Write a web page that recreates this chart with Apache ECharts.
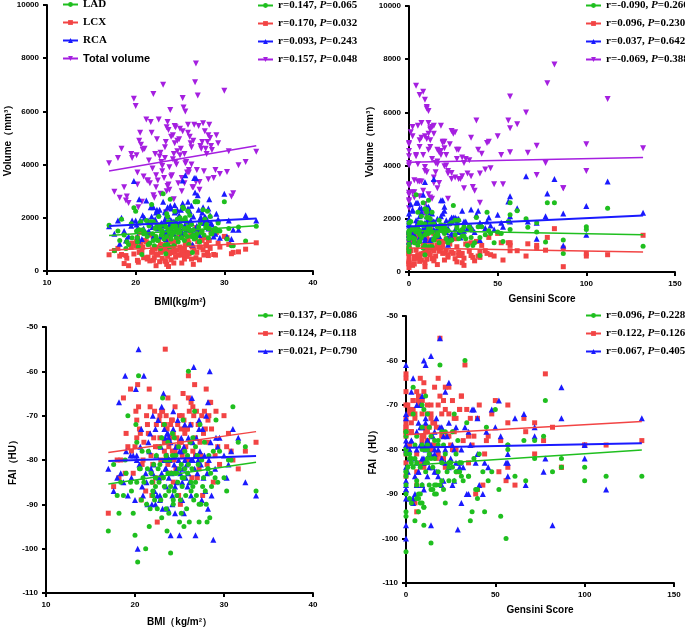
<!DOCTYPE html>
<html>
<head>
<meta charset="utf-8" />
<script src="https://cdn.jsdelivr.net/npm/echarts@6/dist/echarts.min.js"></script>
<style>
  html, body, #main { width: 100%; height: 100%; margin: 0; background: #fff; }
</style>
</head>
<body>
<div id="main"></div>
<script>
// one entry per patient, same order in every array
var bmi = [
  17.0, 17.6, 18.2, 18.4, 18.7, 18.9, 19.2, 19.5, 19.6, 19.8,
  20.0, 20.1, 20.2, 20.3, 20.4, 20.5, 20.7, 20.9, 21.0, 21.2,
  21.3, 21.5, 21.6, 21.8, 21.9, 22.0, 22.1, 22.2, 22.3, 22.4,
  22.5, 22.6, 22.7, 22.8, 22.9, 23.0, 23.1, 23.2, 23.3, 23.3,
  23.4, 23.5, 23.5, 23.6, 23.7, 23.7, 23.8, 23.9, 24.0, 24.0,
  24.1, 24.2, 24.3, 24.4, 24.4, 24.5, 24.6, 24.7, 24.8, 24.9,
  25.0, 25.0, 25.1, 25.2, 25.3, 25.4, 25.5, 25.5, 25.6, 25.7,
  25.8, 25.9, 26.0, 26.1, 26.2, 26.3, 26.4, 26.5, 26.6, 26.7,
  26.8, 26.9, 27.0, 27.1, 27.2, 27.3, 27.5, 27.6, 27.7, 27.8,
  28.0, 28.1, 28.2, 28.3, 28.4, 28.6, 28.8, 29.0, 29.1, 29.3,
  29.5, 30.0, 30.3, 30.5, 31.0, 31.6, 32.4, 33.6, 21.4, 23.0,
  24.5, 25.6, 26.3, 22.0, 20.6, 27.4, 24.2, 23.6, 25.2, 26.0,
  19.0, 20.8, 21.7, 22.3, 23.4, 24.3, 25.3, 26.8, 27.9, 28.5,
  18.0, 20.2, 22.8, 23.8, 24.7, 25.9, 26.5, 27.2, 28.2, 30.8
];
var gensini = [
  5, 0, 22, 28, 16, 0, 9, 18, 32, 9,
  10, 4, 22, 0, 19, 14, 40, 26, 11, 56,
  7, 16, 0, 25, 43, 6, 13, 21, 87, 12,
  6, 38, 30, 0, 15, 10, 4, 24, 27, 132,
  19, 2, 57, 36, 0, 24, 46, 11, 14, 35,
  30, 9, 0, 100, 13, 31, 21, 17, 48, 6,
  0, 12, 39, 28, 112, 10, 53, 4, 16, 0,
  40, 11, 33, 7, 0, 20, 87, 45, 14, 78,
  82, 9, 57, 2, 37, 12, 0, 61, 15, 26,
  8, 44, 3, 18, 10, 0, 29, 100, 50, 23,
  72, 8, 24, 57, 11, 20, 77, 67, 5, 9,
  12, 66, 0, 6, 72, 16, 34, 11, 3, 22,
  3, 18, 7, 35, 9, 52, 1, 14, 27, 6,
  13, 0, 41, 8, 20, 5, 31, 17, 2, 12
];
var ladVol = [
  1720, 760, 1150, 1950, 1350, 850, 1000, 1780, 1250, 2380,
  2250, 1500, 1100, 900, 1550, 1800, 620, 1400, 1450, 1900,
  1300, 1700, 1050, 2500, 1400, 1850, 950, 1600, 1200, 1750,
  1150, 2050, 1600, 850, 1350, 1500, 2900, 1200, 1750, 970,
  1650, 1300, 2150, 1000, 1550, 1850, 1450, 2700, 1200, 1600,
  1350, 1800, 950, 1700, 2250, 1700, 1250, 1950, 1100, 1550,
  1450, 2000, 1700, 1250, 2400, 2350, 1150, 1600, 1400, 1850,
  1300, 1650, 1000, 2100, 1500, 1750, 700, 1550, 1200, 2600,
  2600, 1400, 2600, 1650, 1100, 1800, 1500, 2300, 1350, 1950,
  1750, 2250, 1250, 1600, 2050, 1400, 1550, 1600, 1500, 1800,
  1500, 2600, 1200, 1600, 950, 1650, 1130, 1680, 1000, 1400,
  1600, 2000, 1300, 1150, 1850, 1450, 1700, 2050, 1250, 1550,
  1100, 1550, 1850, 1300, 650, 1450, 1900, 1250, 1650, 1400,
  1500, 1250, 1700, 900, 1450, 2250, 1350, 1100, 1600, 950
];
var lcxVol = [
  610, 770, 560, 620, 280, 580, 200, 900, 1050, 640,
  950, 1100, 1250, 330, 700, 1450, 750, 500, 1150, 1100,
  450, 1000, 380, 700, 800, 1300, 500, 820, 200, 900,
  600, 1150, 350, 700, 900, 480, 1350, 750, 380, 1380,
  1000, 250, 800, 550, 170, 1350, 650, 900, 420, 1100,
  700, 1450, 300, 700, 1000, 520, 1250, 780, 600, 1300,
  900, 1500, 600, 750, 650, 1350, 450, 820, 1000, 700,
  550, 1200, 1050, 680, 1400, 450, 900, 1300, 800, 1300,
  1630, 700, 1100, 1500, 420, 900, 1150, 800, 600, 1250,
  1000, 700, 580, 1150, 850, 1400, 620, 600, 1450, 1050,
  900, 1300, 1250, 1000, 700, 720, 820, 1060, 520, 850,
  1650, 600, 950, 400, 1000, 1200, 780, 1200, 300, 650,
  480, 900, 1350, 620, 350, 1100, 800, 500, 950, 1500,
  850, 400, 1000, 700, 1150, 650, 250, 900, 1150, 650
];
var rcaVol = [
  1680, 1400, 1020, 2000, 1500, 1150, 1300, 1700, 1900, 3380,
  1900, 1750, 1300, 1150, 2700, 1900, 1200, 1600, 2000, 2650,
  1450, 1500, 1800, 2050, 1650, 2400, 1250, 1950, 2200, 2300,
  1600, 2150, 2300, 1300, 1800, 1750, 2600, 1450, 1950, 2230,
  2200, 1400, 2100, 1600, 1500, 2050, 1750, 2450, 1900, 2350,
  1550, 1850, 1400, 2480, 2200, 1900, 1500, 1750, 1600, 2100,
  2000, 1800, 2300, 1500, 3400, 2450, 1700, 1950, 1650, 1550,
  1850, 2350, 1650, 2250, 1900, 2450, 1000, 2050, 3500, 2950,
  3500, 1700, 2850, 2300, 1500, 2000, 2200, 2400, 1800, 2050,
  1650, 1900, 1600, 2700, 2100, 1750, 1300, 1400, 2150, 1950,
  1250, 2900, 1300, 1900, 1550, 1550, 2100, 1900, 1900, 1700,
  2250, 3600, 1800, 1300, 1850, 2000, 1700, 2400, 1400, 1650,
  1200, 2100, 2400, 1700, 1200, 1850, 2550, 1600, 2000, 1800,
  1900, 1600, 1750, 1450, 2300, 2600, 1550, 1350, 2350, 1200
];
var totalVol = [
  4050, 2980, 2750, 4600, 3150, 2650, 2560, 4400, 4250, 6480,
  6200, 4350, 3700, 2400, 4900, 5200, 2600, 3550, 4600, 5700,
  3400, 4150, 3300, 5200, 3850, 6650, 2750, 4400, 3150, 4950,
  3400, 5700, 4300, 2900, 4100, 3750, 7000, 3500, 4250, 4650,
  4850, 3000, 5400, 3200, 3250, 5300, 3900, 6050, 3550, 5050,
  3600, 5100, 2700, 4800, 5450, 4100, 4000, 4500, 3300, 4950,
  4350, 5350, 4600, 3500, 6500, 6150, 3300, 4400, 4050, 4100,
  3700, 5200, 3700, 5050, 4800, 4650, 3150, 4900, 5500, 7100,
  7800, 3800, 6600, 5450, 3050, 4700, 4850, 5550, 3750, 5250,
  4400, 4850, 3450, 5500, 5000, 4550, 3500, 3800, 5100, 4800,
  3650, 6780, 3720, 4500, 2920, 3980, 4100, 4480, 3400, 3950,
  5400, 6000, 4000, 2850, 4750, 4600, 4200, 5600, 3000, 3800,
  2800, 4550, 5600, 3600, 2200, 4400, 5250, 3350, 4600, 4700,
  4250, 3250, 4450, 3050, 4900, 5500, 3150, 3350, 5100, 2800
];
var ladFai = [
  -96, -81, -92, -85, -88, -80, -70, -85, -87, -92,
  -97, -72, -76, -103, -61, -82, -89, -84, -85, -100,
  -90, -78, -95, -83, -85, -87, -81, -89, -84, -79,
  -91, -82, -85, -77, -89, -93, -66, -84, -72, -86,
  -88, -91, -79, -96, -76, -83, -87, -80, -101, -86,
  -83, -79, -90, -87, -75, -83, -79, -88, -85, -77,
  -94, -82, -89, -81, -86, -71, -95, -84, -82, -88,
  -91, -83, -60, -94, -76, -87, -82, -75, -89, -69,
  -85, -88, -79, -81, -94, -72, -80, -86, -84, -76,
  -90, -94, -82, -79, -93, -86, -78, -84, -71, -85,
  -78, -84, -87, -80, -68, -76, -77, -87, -82, -75,
  -83, -78, -85, -88, -82, -90, -74, -80, -92, -81,
  -83, -78, -91, -86, -80, -89, -84, -77, -87, -83,
  -88, -85, -81, -92, -83, -79, -86, -90, -82, -80
];
var lcxFai = [
  -92, -86, -84, -80, -66, -83, -77, -64, -78, -83,
  -77, -69, -71, -63, -68, -73, -89, -80, -76, -87,
  -70, -74, -64, -79, -88, -81, -75, -69, -84, -72,
  -94, -77, -71, -75, -80, -84, -69, -72, -76, -78,
  -55, -79, -70, -73, -81, -66, -77, -75, -72, -83,
  -71, -78, -74, -79, -80, -68, -82, -75, -72, -88,
  -76, -70, -90, -73, -79, -65, -78, -71, -74, -77,
  -73, -80, -61, -69, -76, -72, -84, -78, -70, -63,
  -75, -69, -84, -72, -79, -76, -70, -88, -74, -69,
  -64, -81, -76, -70, -67, -73, -85, -79, -69, -77,
  -81, -70, -77, -74, -80, -82, -78, -76, -72, -69,
  -78, -73, -67, -85, -74, -79, -71, -80, -76, -66,
  -74, -81, -68, -77, -72, -85, -70, -79, -73, -67,
  -80, -75, -70, -83, -77, -73, -68, -82, -71, -78
];
var rcaFai = [
  -82, -87, -67, -83, -85, -61, -88, -79, -84, -79,
  -89, -64, -80, -100, -55, -81, -73, -88, -61, -83,
  -85, -76, -78, -82, -90, -70, -81, -87, -73, -79,
  -88, -71, -84, -89, -77, -83, -91, -65, -80, -73,
  -75, -82, -86, -79, -91, -74, -84, -80, -97, -76,
  -83, -88, -73, -79, -81, -92, -77, -85, -71, -80,
  -97, -78, -83, -75, -89, -82, -77, -92, -80, -84,
  -81, -79, -75, -85, -72, -88, -66, -76, -59, -82,
  -97, -75, -83, -80, -71, -78, -89, -73, -84, -79,
  -70, -83, -67, -80, -60, -88, -98, -82, -75, -77,
  -75, -79, -84, -81, -73, -75, -85, -88, -90, -68,
  -86, -72, -80, -83, -77, -81, -90, -74, -78, -83,
  -78, -86, -74, -90, -82, -69, -85, -79, -87, -76,
  -84, -79, -88, -75, -82, -86, -80, -73, -91, -78
];

// fitted lines: [y at start, y at end], order LAD, LCX, RCA, Total
var bmiFitX = [17.0, 33.6];
var gensiniFitX = [0, 132];
var volBmiFit = [[1330, 1700], [780, 1050], [1690, 1970], [3760, 4710]];
var volGensiniFit = [[1560, 1400], [900, 750], [1710, 2125], [4130, 4300]];
var faiBmiFit = [[-85.4, -80.5], [-78.3, -73.6], [-80.2, -79.1]];
var faiGensiniFit = [[-83.6, -80.1], [-76.7, -73.7], [-79.6, -78.6]];

var groupNames = ['LAD', 'LCX', 'RCA', 'Total volume'];
var volBmiR = ['r=0.147, P=0.065', 'r=0.170, P=0.032', 'r=0.093, P=0.243', 'r=0.157, P=0.048'];
var volGensiniR = ['r=-0.090, P=0.260', 'r=0.096, P=0.230', 'r=0.037, P=0.642', 'r=-0.069, P=0.388'];
var faiBmiR = ['r=0.137, P=0.086', 'r=0.124, P=0.118', 'r=0.021, P=0.790'];
var faiGensiniR = ['r=0.096, P=0.228', 'r=0.122, P=0.126', 'r=0.067, P=0.405'];

var chart = echarts.init(document.getElementById('main'));

var colors = ['#1fbf1f', '#f24444', '#1a1aff', '#a51fe0'];
var symbols = ['circle', 'rect', 'triangle', 'triangle'];
var rotates = [0, 0, 0, 180];
var sizes = [5, 5, 6, 6];
var sans = 'Liberation Sans';
var serif = 'Liberation Serif';

function scatter(g, xs, ys, k) {
  return {
    type: 'scatter', xAxisIndex: g, yAxisIndex: g, silent: true, z: 2,
    data: xs.map(function (x, i) { return [x, ys[i]]; }),
    symbol: symbols[k], symbolSize: sizes[k], symbolRotate: rotates[k],
    itemStyle: { color: colors[k], opacity: 1 }
  };
}
function fitLine(g, name, xr, yr, k) {
  return {
    type: 'line', name: name, xAxisIndex: g, yAxisIndex: g, silent: true, z: 3,
    data: xr.length ? [[xr[0], yr[0]], [xr[1], yr[1]]] : [],
    showSymbol: false, symbol: symbols[k], symbolRotate: rotates[k],
    lineStyle: { color: colors[k], width: k === 2 ? 2 : 1.5 },
    itemStyle: { color: colors[k] }
  };
}
function legend(left, top, names) {
  return {
    left: left, top: top, orient: 'vertical', padding: 0,
    itemWidth: 15, itemHeight: 6, itemGap: 7, selectedMode: false,
    data: names,
    lineStyle: { width: 2 },
    formatter: function (n) {
      if (n === 'Total volume') return '{s|Total volume}';
      return n.replace('P=', '{i|P}=');
    },
    textStyle: {
      fontFamily: serif, fontWeight: 'bold', fontSize: 11, color: '#000',
      rich: {
        i: { fontStyle: 'italic', fontFamily: serif, fontWeight: 'bold', fontSize: 11 },
        s: { fontFamily: sans, fontWeight: 'bold', fontSize: 11 }
      }
    }
  };
}
function axisBase(g) {
  return {
    gridIndex: g, type: 'value',
    axisLine: { show: true, onZero: false, lineStyle: { color: '#000', width: 2 } },
    axisTick: { show: true, length: 4, lineStyle: { color: '#000', width: 2 } },
    axisLabel: {
      color: '#000', fontFamily: sans, fontWeight: 'bold', fontSize: 8,
      formatter: function (v) { return String(v); }
    },
    splitLine: { show: false },
    nameLocation: 'middle',
    nameTextStyle: { color: '#000', fontFamily: sans, fontWeight: 'bold', fontSize: 10 }
  };
}
function axis(g, min, max, interval, name, gap) {
  return Object.assign(axisBase(g), { min: min, max: max, interval: interval, name: name, nameGap: gap });
}

var volumes = [ladVol, lcxVol, rcaVol, totalVol];
var fais = [ladFai, lcxFai, rcaFai];
var drawOrder = [3, 1, 2, 0];
var series = [];

drawOrder.forEach(function (k) { series.push(scatter(0, bmi, volumes[k], k)); });
drawOrder.forEach(function (k) { series.push(scatter(1, gensini, volumes[k], k)); });
[1, 2, 0].forEach(function (k) { series.push(scatter(2, bmi, fais[k], k)); });
[1, 2, 0].forEach(function (k) { series.push(scatter(3, gensini, fais[k], k)); });

for (var k = 0; k < 4; k++) {
  series.push(fitLine(0, groupNames[k], bmiFitX, volBmiFit[k], k));
  series.push(fitLine(0, volBmiR[k], [], [], k));
  series.push(fitLine(1, volGensiniR[k], gensiniFitX, volGensiniFit[k], k));
}
for (var k = 0; k < 3; k++) {
  series.push(fitLine(2, faiBmiR[k], bmiFitX, faiBmiFit[k], k));
  series.push(fitLine(3, faiGensiniR[k], gensiniFitX, faiGensiniFit[k], k));
}

var option = {
  animation: false,
  backgroundColor: '#fff',
  grid: [
    { left: 47, top: 5, width: 266, height: 266 },
    { left: 409, top: 6, width: 266, height: 266 },
    { left: 46, top: 327, width: 267, height: 266 },
    { left: 406, top: 316, width: 268, height: 267 }
  ],
  xAxis: [
    axis(0, 10, 40, 10, 'BMI(kg/m²)', 26),
    axis(1, 0, 150, 50, 'Gensini Score', 22),
    axis(2, 10, 40, 10, 'BMI（kg/m²）', 24),
    axis(3, 0, 150, 50, 'Gensini Score', 22)
  ],
  yAxis: [
    axis(0, 0, 10000, 2000, 'Volume（mm³）', 30),
    axis(1, 0, 10000, 2000, 'Volume（mm³）', 31),
    axis(2, -110, -50, 10, 'FAI（HU）', 27),
    axis(3, -110, -50, 10, 'FAI（HU）', 25)
  ],
  legend: [
    legend(62, -1, groupNames),
    legend(257, 0, volBmiR),
    legend(585, 0, volGensiniR),
    legend(257, 310, faiBmiR),
    legend(585, 310, faiGensiniR)
  ],
  series: series
};

chart.setOption(option);

window.onresize = function () {
  chart.resize();
};
</script>
</body>
</html>
